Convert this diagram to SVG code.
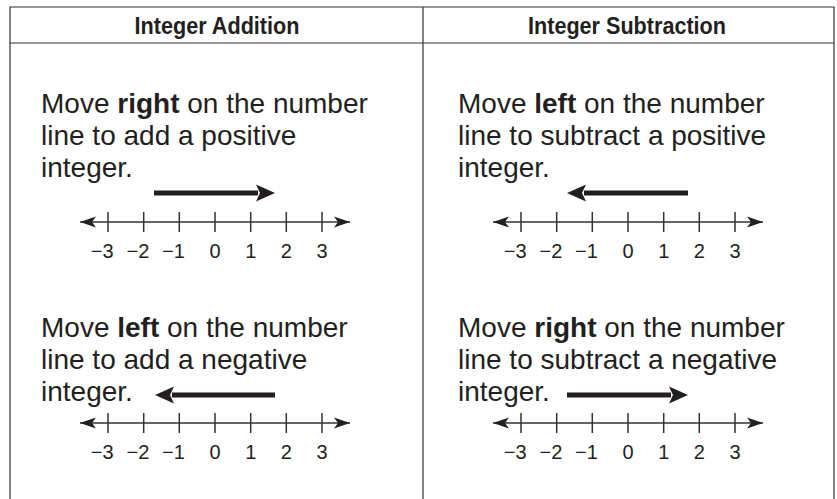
<svg xmlns="http://www.w3.org/2000/svg" width="837" height="499" viewBox="0 0 837 499">
<style>
.frame{fill:none;stroke:#333;stroke-width:1.2}
.hd{font-family:"Liberation Sans",Arial,sans-serif;font-weight:bold;font-size:24.5px;fill:#231f20;text-anchor:middle}
.tx{font-family:"Liberation Sans",Arial,sans-serif;font-size:28px;fill:#231f20}
.tx tspan.b{font-weight:bold}
.nl{fill:none;stroke:#333;stroke-width:1.5;marker-start:url(#nh);marker-end:url(#nh)}
.tk{fill:none;stroke:#333;stroke-width:1.5}
.lb{font-family:"Liberation Sans",Arial,sans-serif;font-size:20px;fill:#231f20;text-anchor:middle}
.lbn{font-family:"Liberation Sans",Arial,sans-serif;font-size:20px;fill:#231f20;text-anchor:end}
.mv{fill:none;stroke:#231f20;stroke-width:5;marker-end:url(#ah)}
</style>
<defs>
<marker id="nh" viewBox="0 -6 16 12" refX="16" refY="0" markerWidth="16" markerHeight="12" markerUnits="userSpaceOnUse" orient="auto-start-reverse">
<path d="M16,0 L0,-5.5 L4,0 L0,5.5 Z" fill="#231f20"/>
</marker>
<marker id="ah" viewBox="0 -9 19 18" refX="2" refY="0" markerWidth="19" markerHeight="18" markerUnits="userSpaceOnUse" orient="auto">
<path d="M19,0 L0,-8.5 L4,0 L0,8.5 Z" fill="#231f20"/>
</marker>
<g id="ticks">
<path class="tk" d="M108,-10V10 M143.7,-10V10 M179.3,-10V10 M215,-10V10 M250.7,-10V10 M286.3,-10V10 M322,-10V10"/>
<text class="lbn" x="113.6" y="36">−3</text>
<text class="lbn" x="149.3" y="36">−2</text>
<text class="lbn" x="184.9" y="36">−1</text>
<text class="lb" x="215" y="36">0</text>
<text class="lb" x="250.7" y="36">1</text>
<text class="lb" x="286.3" y="36">2</text>
<text class="lb" x="322" y="36">3</text>
</g>
</defs>

<g id="table">
<path class="frame" d="M10,499 V7 H834 V499 M423,7 V499 M10,43 H834"/>
</g>

<g id="header-addition"><text class="hd" x="217" y="33.5" textLength="165" lengthAdjust="spacingAndGlyphs">Integer Addition</text></g>
<g id="header-subtraction"><text class="hd" x="627" y="33.5" textLength="198" lengthAdjust="spacingAndGlyphs">Integer Subtraction</text></g>

<g id="add-positive">
<text class="tx" x="41" y="113">Move <tspan class="b">right</tspan> on the number</text>
<text class="tx" x="41" y="145">line to add a positive</text>
<text class="tx" x="41" y="177">integer.</text>
<path class="nl" d="M80,222 H350"/>
<use href="#ticks" transform="translate(0,222)"/>
</g>

<g id="add-negative">
<text class="tx" x="41" y="337">Move <tspan class="b">left</tspan> on the number</text>
<text class="tx" x="41" y="369">line to add a negative</text>
<text class="tx" x="41" y="401">integer.</text>
<path class="nl" d="M80,423 H350"/>
<use href="#ticks" transform="translate(0,423)"/>
</g>

<g id="sub-positive">
<text class="tx" x="458" y="113">Move <tspan class="b">left</tspan> on the number</text>
<text class="tx" x="458" y="145">line to subtract a positive</text>
<text class="tx" x="458" y="177">integer.</text>
<path class="nl" d="M493,222 H763"/>
<use href="#ticks" transform="translate(413,222)"/>
</g>

<g id="sub-negative">
<text class="tx" x="458" y="337">Move <tspan class="b">right</tspan> on the number</text>
<text class="tx" x="458" y="369">line to subtract a negative</text>
<text class="tx" x="458" y="401">integer.</text>
<path class="nl" d="M493,423 H763"/>
<use href="#ticks" transform="translate(413,423)"/>
</g>

<g id="connectors">
<path class="mv" d="M154,193 H258"/>
<path class="mv" d="M688,193 H584"/>
<path class="mv" d="M275,395 H172"/>
<path class="mv" d="M567,395 H671"/>
</g>
</svg>
